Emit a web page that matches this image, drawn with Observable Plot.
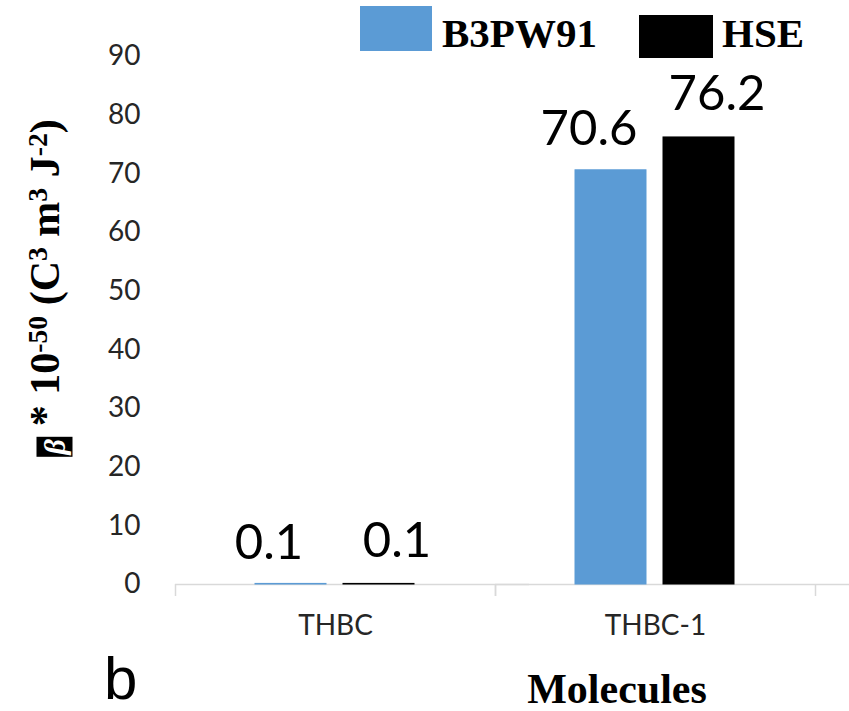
<!DOCTYPE html>
<html>
<head>
<meta charset="utf-8">
<script src="https://cdn.jsdelivr.net/npm/d3@7"></script>
<script src="https://cdn.jsdelivr.net/npm/@observablehq/plot@0.6"></script>
<style>
  html, body { margin: 0; padding: 0; background: #fff; }
  #wrap { position: relative; width: 849px; height: 711px; overflow: hidden; }
  #wrap svg { position: absolute; left: 0; top: 0; }
  .serif { font-family: "Liberation Serif", "DejaVu Serif", serif; font-weight: bold; color: #000; }
  .abs { position: absolute; white-space: nowrap; line-height: 1; }
  .sw { position: absolute; }
  sup { font-size: 0.66em; vertical-align: 0; position: relative; top: -0.45em; }
</style>
</head>
<body>
<div id="wrap"></div>
<script>
// ---- data ----
const molecules = ["THBC", "THBC-1"];
const methods = ["B3PW91", "HSE"];
const b3pw91 = [0.1, 70.6];
const hse = [0.1, 76.2];
const yTicks = [0, 10, 20, 30, 40, 50, 60, 70, 80, 90];
const colors = ["#5b9bd5", "#000000"];

const rows = [];
molecules.forEach((m, i) => {
  rows.push({molecule: m, method: methods[0], value: b3pw91[i]});
  rows.push({molecule: m, method: methods[1], value: hse[i]});
});

const chart = Plot.plot({
  width: 849,
  height: 711,
  marginLeft: 175,
  marginRight: 34,
  marginTop: 56,
  marginBottom: 127,
  style: {fontFamily: "Lato, sans-serif", background: "transparent"},
  fx: {domain: molecules, padding: 0, label: null},
  x: {domain: methods, paddingInner: 0.19, paddingOuter: 0.893, axis: null},
  y: {domain: [0, 90], label: null},
  color: {domain: methods, range: colors},
  marks: [
    Plot.axisY({ticks: yTicks, tickSize: 0, tickPadding: 35, fontSize: 28, fill: "#262626", label: null}),
    Plot.axisFx({anchor: "bottom", tickSize: 0, tickPadding: 31, fontSize: 28, fill: "#262626", label: null}),
    Plot.axisFx({anchor: "bottom", tickSize: 12, tickFormat: () => "", stroke: "#d9d9d9", strokeWidth: 1.5, dx: -160, label: null}),
    Plot.axisFx({anchor: "bottom", tickSize: 12, tickFormat: () => "", stroke: "#d9d9d9", strokeWidth: 1.5, dx: 160, label: null}),
    Plot.ruleY([0], {stroke: "#d9d9d9", strokeWidth: 1.5, insetRight: -34}),
    Plot.barY(rows, {fx: "molecule", x: "method", y: "value", fill: "method", stroke: "method", strokeWidth: 1}),
    Plot.text(rows.filter(d => d.method === methods[0]), {fx: "molecule", x: "method", y: "value", text: d => d.value.toFixed(1), lineAnchor: "bottom", dy: -25, dx: -22, fontSize: 49, fill: "#000"}),
    Plot.text(rows.filter(d => d.method === methods[1]), {fx: "molecule", x: "method", y: "value", text: d => d.value.toFixed(1), lineAnchor: "bottom", dy: -27, dx: 18, fontSize: 49, fill: "#000"})
  ]
});

const wrap = document.getElementById("wrap");
wrap.appendChild(chart);

// legend (above plot area)
const legend = [
  {label: methods[0], color: colors[0], sx: 360, sy: 6, sw: 72, sh: 45, tx: 442},
  {label: methods[1], color: colors[1], sx: 639, sy: 15, sw: 74, sh: 43, tx: 722}
];
legend.forEach(l => {
  const s = document.createElement("div");
  s.className = "sw";
  s.style.cssText = `left:${l.sx}px;top:${l.sy}px;width:${l.sw}px;height:${l.sh}px;background:${l.color};`;
  wrap.appendChild(s);
  const t = document.createElement("div");
  t.className = "abs serif";
  t.style.cssText = `left:${l.tx}px;top:13px;font-size:41px;`;
  t.textContent = l.label;
  wrap.appendChild(t);
});

// y-axis title
const yt = document.createElement("div");
yt.className = "abs serif";
yt.style.cssText = "left:48px;top:288px;font-size:42px;transform:translate(-50%,-50%) rotate(-90deg);";
yt.innerHTML = '<span style="display:inline-block;background:#000;color:#fff;font-style:italic;width:20px;height:36px;line-height:36px;text-align:center;font-size:30px;vertical-align:-6px;">β</span> * 10<sup>-50</sup> (C<sup>3</sup> m<sup>3</sup> J<sup>-2</sup>)';
wrap.appendChild(yt);

// x-axis title
const xt = document.createElement("div");
xt.className = "abs serif";
xt.style.cssText = "left:617px;top:673px;font-size:42px;line-height:0.8;transform:translateX(-50%);";
xt.textContent = "Molecules";
wrap.appendChild(xt);

// panel letter
const b = document.createElement("div");
b.className = "abs";
b.style.cssText = 'left:104px;top:655px;font-size:60px;line-height:0.8;font-family:"Liberation Sans", Arial, sans-serif;color:#000;';
b.textContent = "b";
wrap.appendChild(b);
</script>
</body>
</html>
